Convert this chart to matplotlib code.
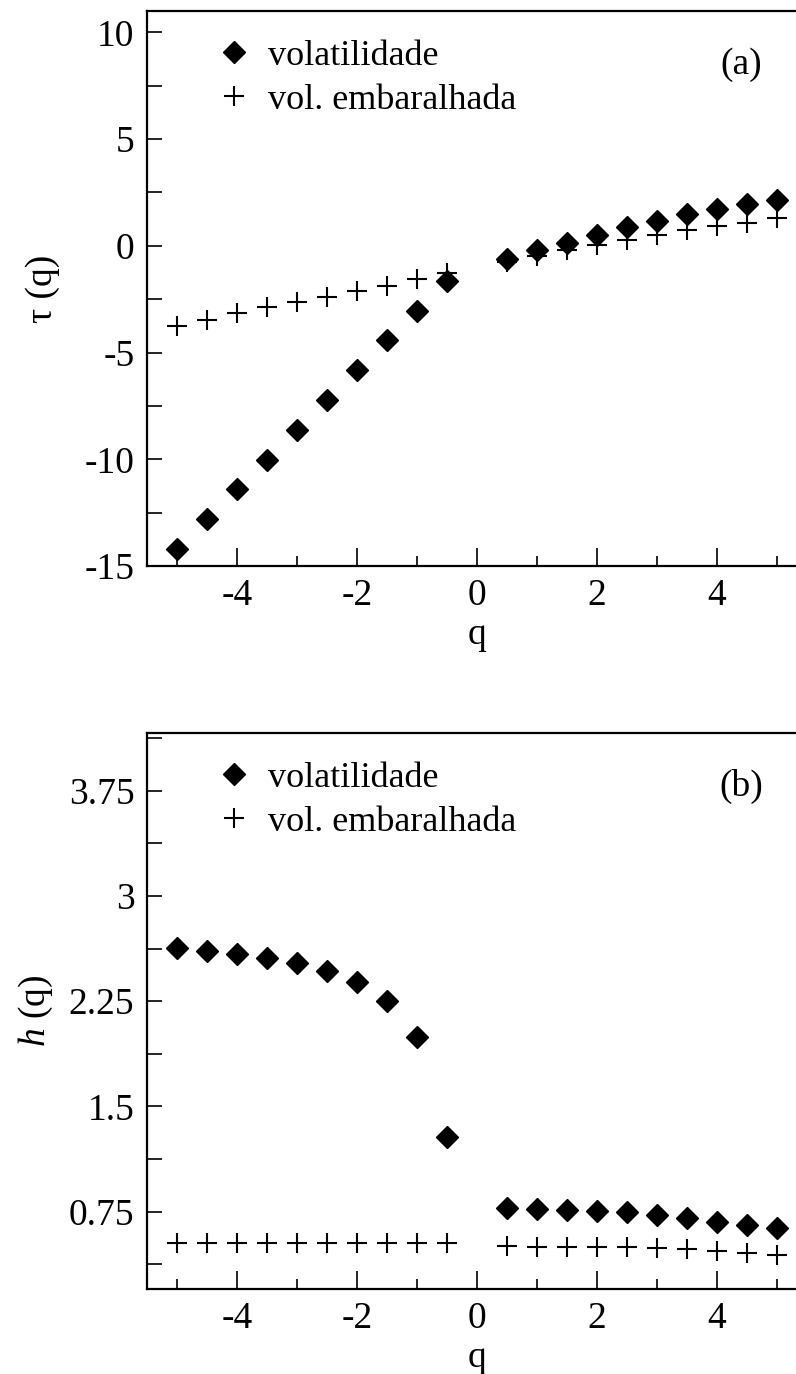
import matplotlib
matplotlib.use("Agg")
import matplotlib.pyplot as plt
from matplotlib.ticker import MultipleLocator, FixedLocator
from matplotlib.lines import Line2D

plt.rcParams['font.family'] = ['Liberation Serif', 'DejaVu Serif']
plt.rcParams['mathtext.fontset'] = 'custom'
plt.rcParams['mathtext.rm'] = 'Liberation Serif'
plt.rcParams['mathtext.it'] = 'Liberation Serif:italic'
plt.rcParams['axes.unicode_minus'] = False

# ---- data ----
q_vals = [-5, -4.5, -4, -3.5, -3, -2.5, -2, -1.5, -1, -0.5,
          0.5, 1, 1.5, 2, 2.5, 3, 3.5, 4, 4.5, 5]

tau_vol = [-14.2, -12.8, -11.4, -10.02, -8.62, -7.21, -5.82, -4.42, -3.04, -1.67,
           -0.62, -0.20, 0.13, 0.50, 0.86, 1.17, 1.48, 1.72, 1.95, 2.15]
tau_shuf = [-3.75, -3.48, -3.17, -2.89, -2.65, -2.39, -2.11, -1.87, -1.57, -1.27,
            -0.74, -0.50, -0.20, 0.03, 0.28, 0.50, 0.73, 0.94, 1.09, 1.30]

h_vol = [2.627, 2.61, 2.587, 2.558, 2.52, 2.468, 2.385, 2.254, 1.998, 1.28,
         0.775, 0.77, 0.765, 0.758, 0.745, 0.727, 0.703, 0.677, 0.655, 0.635]
h_shuf = [0.525, 0.525, 0.525, 0.525, 0.525, 0.525, 0.525, 0.525, 0.525, 0.525,
          0.506, 0.501, 0.501, 0.501, 0.497, 0.489, 0.482, 0.472, 0.458, 0.442]

labels = ["volatilidade", "vol. embaralhada"]
panel_tags = ["(a)", "(b)"]
x_ticks = [-4, -2, 0, 2, 4]

W, H = 796, 1374
fig = plt.figure(figsize=(W / 100, H / 100), dpi=100)

def px_axes(left, top, right, bottom):
    return fig.add_axes([left / W, 1 - bottom / H, (right - left) / W, (bottom - top) / H])

ax1 = px_axes(147, 11, 807, 566)
ax2 = px_axes(147, 733, 807, 1289)

FS = 27
dkw = dict(marker='D', markersize=11.5, color='black', linestyle='none')
pkw = dict(marker='+', markersize=15, markeredgewidth=1.5, color='black', linestyle='none')

for ax, yv, ys in [(ax1, tau_vol, tau_shuf), (ax2, h_vol, h_shuf)]:
    ax.plot(q_vals, yv, **dkw)
    ax.plot(q_vals, ys, **pkw)
    ax.set_xlim(-5.5, 5.5)
    ax.xaxis.set_major_locator(FixedLocator(x_ticks))
    ax.xaxis.set_minor_locator(MultipleLocator(1))
    ax.tick_params(which='both', direction='in', top=False, right=False,
                   labelsize=FS, width=1.2, pad=9)
    ax.tick_params(axis='x', which='major', length=13)
    ax.tick_params(axis='x', which='minor', length=7)
    ax.tick_params(axis='y', which='both', length=11)
    for s in ax.spines.values():
        s.set_linewidth(1.6)
    ax.spines['right'].set_visible(False)
    ax.set_xlabel("q", fontsize=FS, labelpad=3)
    handles = [Line2D([], [], **dkw), Line2D([], [], **pkw)]
    ax.legend(handles, labels, loc='upper left', bbox_to_anchor=(0.085, 0.975),
              frameon=False, fontsize=FS - 1, handlelength=0.9, handletextpad=0.5,
              labelspacing=0.3, borderaxespad=0.2, borderpad=0.2)

ax1.set_ylim(-15, 11)
ax1.yaxis.set_major_locator(MultipleLocator(5))
ax1.yaxis.set_minor_locator(MultipleLocator(2.5))
ax1.set_ylabel("τ (q)", fontsize=FS, labelpad=18)
ax1.text(0.9, 0.903, panel_tags[0], transform=ax1.transAxes, fontsize=FS,
         ha='center', va='center')

ax2.set_ylim(0.2, 4.16)
ax2.yaxis.set_major_locator(FixedLocator([0.75, 1.5, 2.25, 3.0, 3.75]))
ax2.yaxis.set_minor_locator(MultipleLocator(0.375))
ax2.set_yticklabels(["0.75", "1.5", "2.25", "3", "3.75"])
ax2.set_ylabel(r"$h$ (q)", fontsize=FS, labelpad=10)
ax2.text(0.9, 0.903, panel_tags[1], transform=ax2.transAxes, fontsize=FS,
         ha='center', va='center')

fig.savefig("out.png", dpi=100)
